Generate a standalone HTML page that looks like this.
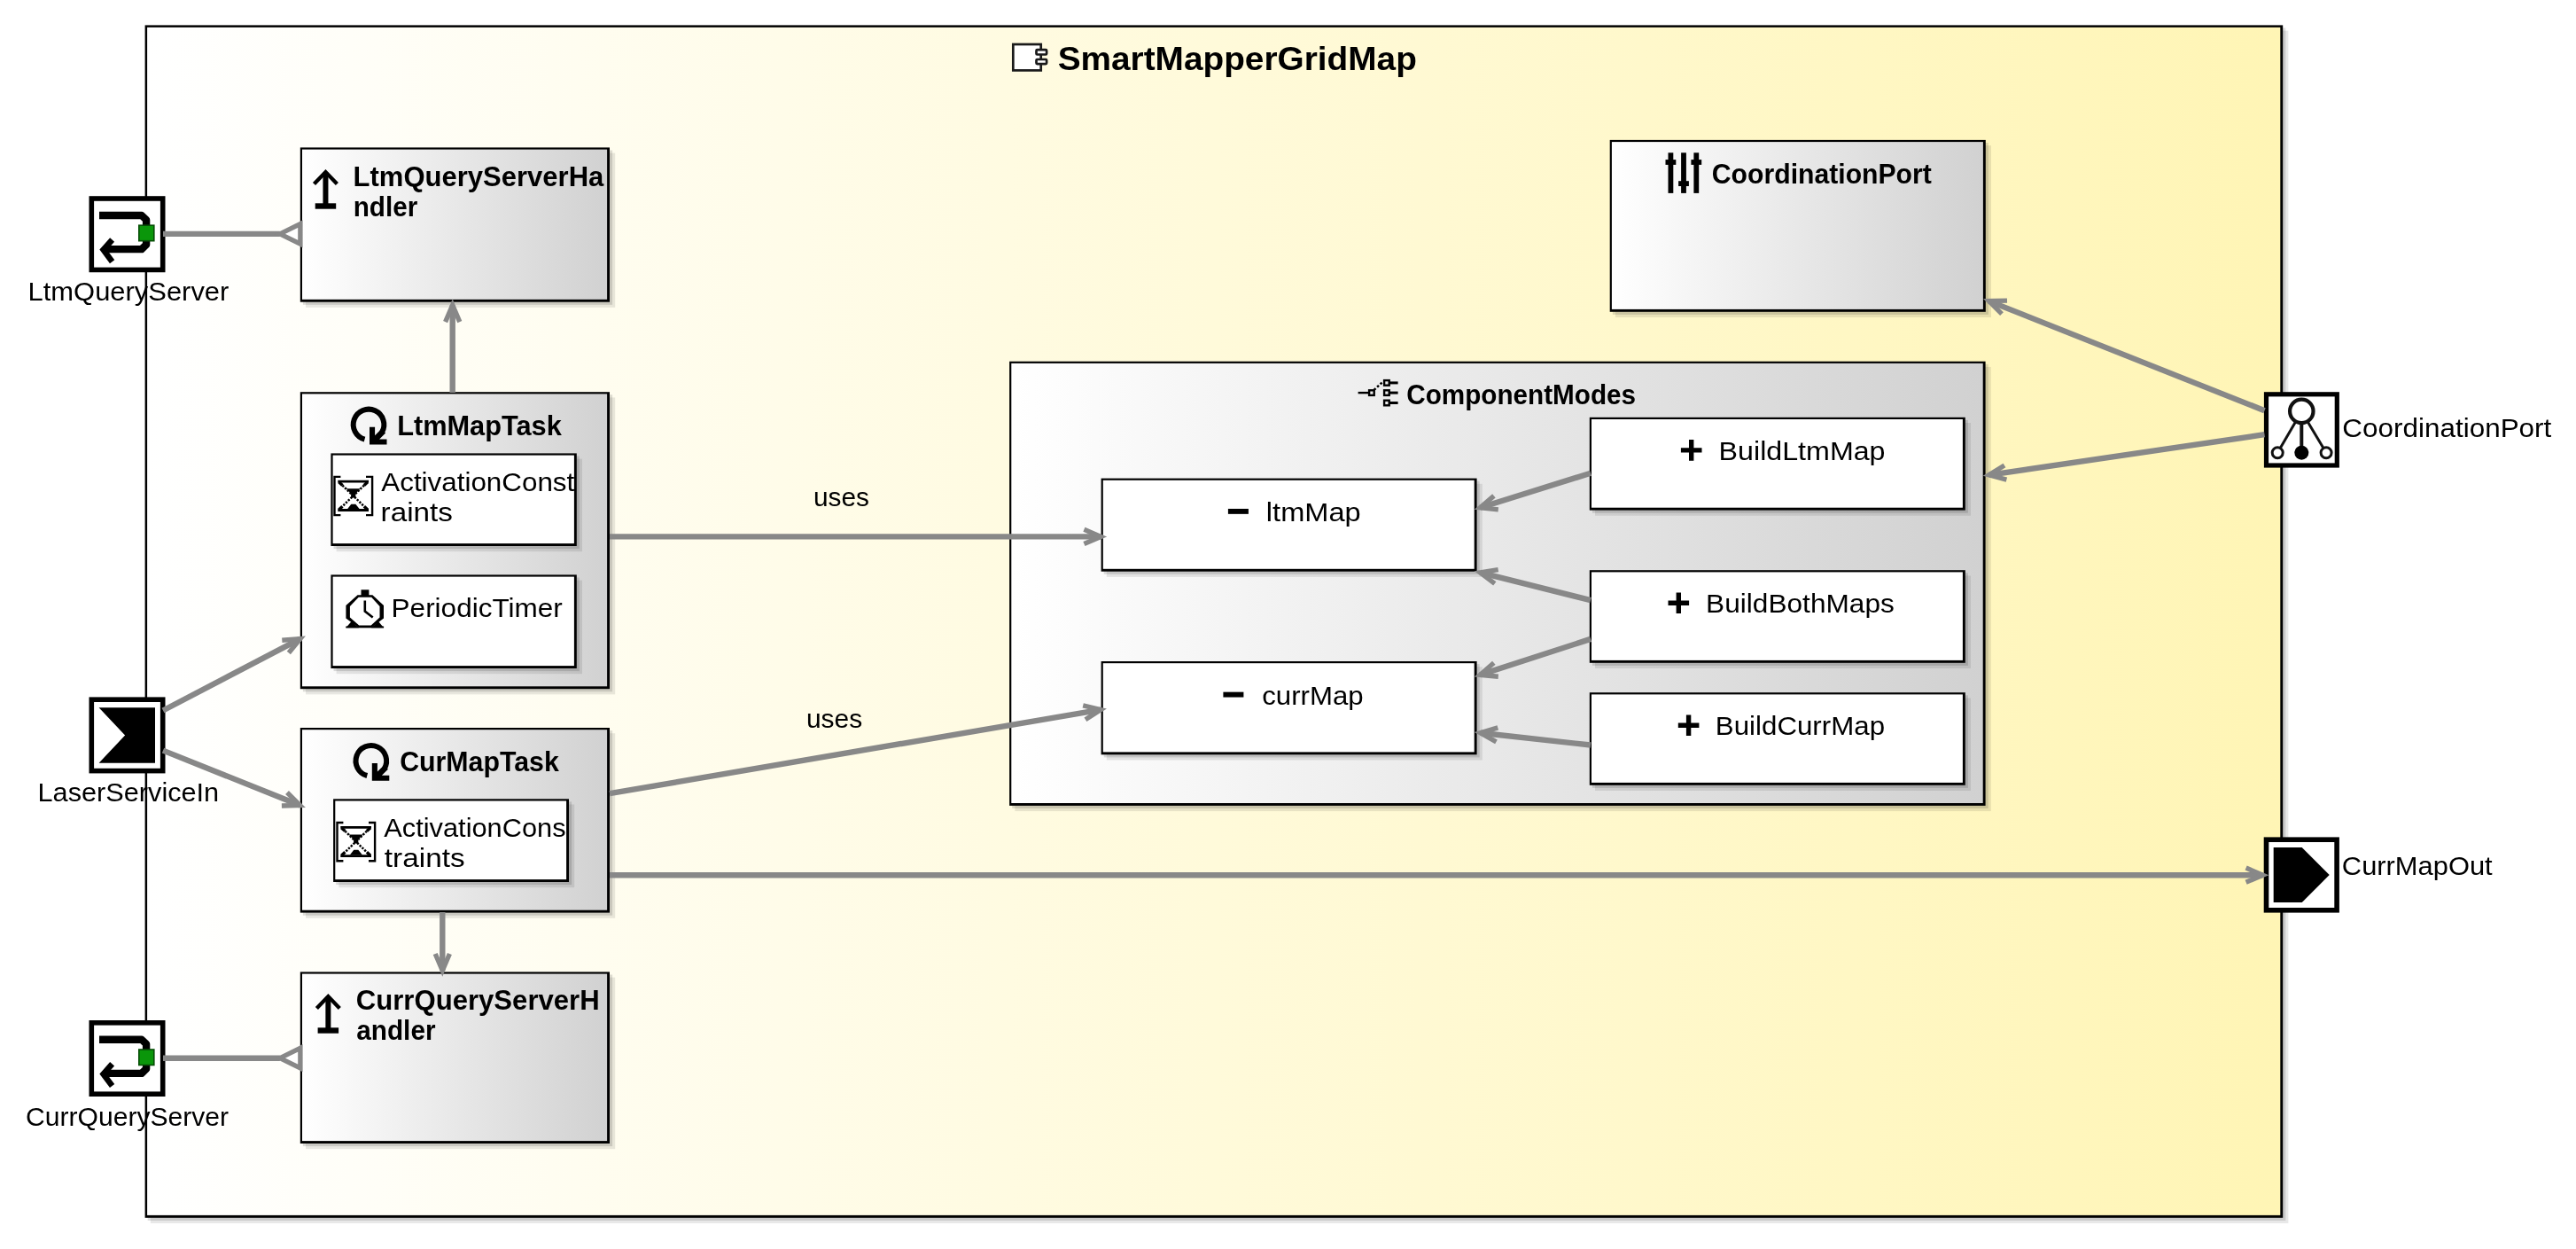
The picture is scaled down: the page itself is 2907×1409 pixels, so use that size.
<!DOCTYPE html>
<html><head><meta charset="utf-8"><title>SmartMapperGridMap</title>
<style>
html,body{margin:0;padding:0;background:#fff;overflow:hidden;}
svg{display:block;will-change:transform;}
text{font-family:"Liberation Sans",sans-serif;fill:#000;}
</style></head><body>
<svg width="2907" height="1409" viewBox="0 0 2907 1409">
<defs>
<linearGradient id="gy" x1="0" y1="0" x2="1" y2="0"><stop offset="0" stop-color="#ffffff"/><stop offset="1" stop-color="#fff5b5"/></linearGradient>
<linearGradient id="gg" x1="0" y1="0" x2="1" y2="0"><stop offset="0" stop-color="#ffffff"/><stop offset="1" stop-color="#d1d1d1"/></linearGradient>
</defs>
<rect width="2907" height="1409" fill="#fff"/>
<rect x="169.8" y="34.6" width="2412.6" height="1345.4" fill="#000" fill-opacity="0.09"/>
<rect x="166.7" y="31.5" width="2412.6" height="1345.4" fill="#000" fill-opacity="0.13"/>
<rect x="163.60" y="28.40" width="2412.60" height="1345.40" fill="#000"/>
<rect x="166.10" y="30.90" width="2407.20" height="1340.00" fill="url(#gy)"/>
<g transform="translate(1141.9,48.6)" stroke="#1a1a1a" stroke-width="2.7" fill="#fff">
<rect x="1.4" y="1.4" width="31.4" height="29.4"/>
<rect x="27.6" y="7.6" width="11.6" height="5.3" rx="1"/>
<rect x="27.6" y="18.4" width="11.6" height="5.1" rx="1"/>
</g>
<text x="1193.67" y="79.0" font-size="37" font-weight="bold" textLength="405.18" lengthAdjust="spacingAndGlyphs">SmartMapperGridMap</text>
<rect x="345.0" y="172.6" width="349.2" height="174.3" fill="#000" fill-opacity="0.09"/>
<rect x="341.9" y="169.5" width="349.2" height="174.3" fill="#000" fill-opacity="0.13"/>
<rect x="338.80" y="166.40" width="349.20" height="174.30" fill="#000"/>
<rect x="341.00" y="168.60" width="344.10" height="169.20" fill="url(#gg)"/>
<rect x="345.0" y="448.4" width="349.2" height="335.0" fill="#000" fill-opacity="0.09"/>
<rect x="341.9" y="445.3" width="349.2" height="335.0" fill="#000" fill-opacity="0.13"/>
<rect x="338.80" y="442.20" width="349.20" height="335.00" fill="#000"/>
<rect x="341.00" y="444.40" width="344.10" height="329.90" fill="url(#gg)"/>
<rect x="345.0" y="827.2" width="349.2" height="208.6" fill="#000" fill-opacity="0.09"/>
<rect x="341.9" y="824.1" width="349.2" height="208.6" fill="#000" fill-opacity="0.13"/>
<rect x="338.80" y="821.00" width="349.20" height="208.60" fill="#000"/>
<rect x="341.00" y="823.20" width="344.10" height="203.50" fill="url(#gg)"/>
<rect x="345.0" y="1102.6" width="349.2" height="193.6" fill="#000" fill-opacity="0.09"/>
<rect x="341.9" y="1099.5" width="349.2" height="193.6" fill="#000" fill-opacity="0.13"/>
<rect x="338.80" y="1096.40" width="349.20" height="193.60" fill="#000"/>
<rect x="341.00" y="1098.60" width="344.10" height="188.50" fill="url(#gg)"/>
<rect x="1822.9" y="164.1" width="424.1" height="193.9" fill="#000" fill-opacity="0.09"/>
<rect x="1819.8" y="161.0" width="424.1" height="193.9" fill="#000" fill-opacity="0.13"/>
<rect x="1816.70" y="157.90" width="424.10" height="193.90" fill="#000"/>
<rect x="1818.90" y="160.10" width="419.00" height="188.80" fill="url(#gg)"/>
<rect x="1145.3" y="413.9" width="1101.5" height="501.2" fill="#000" fill-opacity="0.09"/>
<rect x="1142.2" y="410.8" width="1101.5" height="501.2" fill="#000" fill-opacity="0.13"/>
<rect x="1139.10" y="407.70" width="1101.50" height="501.20" fill="#000"/>
<rect x="1141.30" y="409.90" width="1096.40" height="496.10" fill="url(#gg)"/>
<rect x="379.6" y="517.6" width="277.4" height="104.6" fill="#000" fill-opacity="0.09"/>
<rect x="376.5" y="514.5" width="277.4" height="104.6" fill="#000" fill-opacity="0.13"/>
<rect x="373.40" y="511.40" width="277.40" height="104.60" fill="#000"/>
<rect x="375.60" y="513.60" width="272.30" height="99.50" fill="#fff"/>
<rect x="379.6" y="654.6" width="277.4" height="105.6" fill="#000" fill-opacity="0.09"/>
<rect x="376.5" y="651.5" width="277.4" height="105.6" fill="#000" fill-opacity="0.13"/>
<rect x="373.40" y="648.40" width="277.40" height="105.60" fill="#000"/>
<rect x="375.60" y="650.60" width="272.30" height="100.50" fill="#fff"/>
<rect x="382.3" y="907.5" width="265.9" height="93.7" fill="#000" fill-opacity="0.09"/>
<rect x="379.2" y="904.4" width="265.9" height="93.7" fill="#000" fill-opacity="0.13"/>
<rect x="376.10" y="901.30" width="265.90" height="93.70" fill="#000"/>
<rect x="378.30" y="903.50" width="260.80" height="88.60" fill="#fff"/>
<rect x="1248.8" y="545.8" width="424.0" height="105.1" fill="#000" fill-opacity="0.09"/>
<rect x="1245.7" y="542.7" width="424.0" height="105.1" fill="#000" fill-opacity="0.13"/>
<rect x="1242.60" y="539.60" width="424.00" height="105.10" fill="#000"/>
<rect x="1244.80" y="541.80" width="418.90" height="100.00" fill="#fff"/>
<rect x="1248.8" y="752.2" width="424.0" height="105.3" fill="#000" fill-opacity="0.09"/>
<rect x="1245.7" y="749.1" width="424.0" height="105.3" fill="#000" fill-opacity="0.13"/>
<rect x="1242.60" y="746.00" width="424.00" height="105.30" fill="#000"/>
<rect x="1244.80" y="748.20" width="418.90" height="100.20" fill="#fff"/>
<rect x="1800.0" y="477.0" width="424.0" height="104.8" fill="#000" fill-opacity="0.09"/>
<rect x="1796.9" y="473.9" width="424.0" height="104.8" fill="#000" fill-opacity="0.13"/>
<rect x="1793.80" y="470.80" width="424.00" height="104.80" fill="#000"/>
<rect x="1796.00" y="473.00" width="418.90" height="99.70" fill="#fff"/>
<rect x="1800.0" y="649.4" width="424.0" height="104.6" fill="#000" fill-opacity="0.09"/>
<rect x="1796.9" y="646.3" width="424.0" height="104.6" fill="#000" fill-opacity="0.13"/>
<rect x="1793.80" y="643.20" width="424.00" height="104.60" fill="#000"/>
<rect x="1796.00" y="645.40" width="418.90" height="99.50" fill="#fff"/>
<rect x="1800.0" y="787.4" width="424.0" height="104.6" fill="#000" fill-opacity="0.09"/>
<rect x="1796.9" y="784.3" width="424.0" height="104.6" fill="#000" fill-opacity="0.13"/>
<rect x="1793.80" y="781.20" width="424.00" height="104.60" fill="#000"/>
<rect x="1796.00" y="783.40" width="418.90" height="99.50" fill="#fff"/>
<g transform="translate(352.5,192.0)" fill="none" stroke="#000">
<path d="M14.95 2.5 V40" stroke-width="6"/>
<path d="M2.0 15.6 L14.95 2.0 L27.9 15.6" stroke-width="4.3"/>
<path d="M3.2 40.5 H26.7" stroke-width="6.4"/>
</g>
<text x="398.58" y="209.8" font-size="31.5" font-weight="bold" textLength="282.71" lengthAdjust="spacingAndGlyphs">LtmQueryServerHa</text>
<text x="398.70" y="243.8" font-size="31.5" font-weight="bold" textLength="72.58" lengthAdjust="spacingAndGlyphs">ndler</text>
<g transform="translate(395.7,458.7)">
<path d="M15.8 37 A17.3 17.3 0 1 1 35.3 28.95" fill="none" stroke="#000" stroke-width="6"/>
<polygon points="21.3,23 27.4,23 27.4,32.6 34.6,25.4 39.4,29.8 32.4,36.7 40.8,36.7 40.8,42.8 21.3,42.8" fill="#000"/>
</g>
<text x="448.13" y="490.5" font-size="31.5" font-weight="bold" textLength="185.69" lengthAdjust="spacingAndGlyphs">LtmMapTask</text>
<g transform="translate(376.4,537.3)" fill="none" stroke="#000">
<path d="M8 0.6 H1.1 V43.8 H8" stroke-width="2.4"/>
<path d="M36.6 0.6 H43.7 V43.8 H36.6" stroke-width="2.4"/>
<path d="M4.9 5.9 H39.6 M4.9 38.2 H39.6" stroke-width="2.8"/>
<path d="M6 6.5 L10 10.2 M38.5 6.5 L34.5 10.2 M6 37.6 L10 33.9 M38.5 37.6 L34.5 33.9" stroke-width="3.4"/>
<path d="M10 10.2 L34.5 33.9 M34.5 10.2 L10 33.9" stroke-width="2.5" stroke-dasharray="2.3 1.5"/>
<polygon points="14.1,14 30.4,14 24.9,19.5 24.9,24.2 19.7,24.2 19.7,19.5" fill="#000" stroke="none"/>
<polygon points="15.4,37.2 29.6,37.2 24.9,31.4 19.9,31.4" fill="#000" stroke="none"/>
</g>
<text x="430.27" y="553.6" font-size="30" textLength="218.00" lengthAdjust="spacingAndGlyphs">ActivationConst</text>
<text x="429.58" y="587.6" font-size="30" textLength="81.29" lengthAdjust="spacingAndGlyphs">raints</text>
<g transform="translate(389.4,665.3)">
<rect x="18.1" y="0" width="8.9" height="7" fill="#000"/>
<polygon points="0.9,42.9 7.2,35.8 15.5,42.9" fill="#000"/><polygon points="29.6,42.9 37.6,35.8 43.7,42.9" fill="#000"/>
<rect x="0.9" y="41.2" width="42.8" height="1.8" fill="#000"/>
<polygon points="14.1,6 31,6 43.6,17.7 43.6,32.3 29.8,42.7 15.3,42.7 1,32.3 1,17.7" fill="#000"/>
<polygon points="15.3,8.4 29.8,8.4 39.1,18.8 39.1,31.2 29.3,40.1 15.8,40.1 5.5,31.2 5.5,18.8" fill="#fff"/>
<path d="M22.4 12.1 V24.3 L31.3 31.2" fill="none" stroke="#000" stroke-width="2.6"/>
</g>
<text x="441.62" y="696.4" font-size="30" textLength="193.10" lengthAdjust="spacingAndGlyphs">PeriodicTimer</text>
<g transform="translate(398.5,838.0)">
<path d="M15.8 37 A17.3 17.3 0 1 1 35.3 28.95" fill="none" stroke="#000" stroke-width="6"/>
<polygon points="21.3,23 27.4,23 27.4,32.6 34.6,25.4 39.4,29.8 32.4,36.7 40.8,36.7 40.8,42.8 21.3,42.8" fill="#000"/>
</g>
<text x="451.18" y="869.6" font-size="31.5" font-weight="bold" textLength="179.66" lengthAdjust="spacingAndGlyphs">CurMapTask</text>
<g transform="translate(379.4,927.4)" fill="none" stroke="#000">
<path d="M8 0.6 H1.1 V43.8 H8" stroke-width="2.4"/>
<path d="M36.6 0.6 H43.7 V43.8 H36.6" stroke-width="2.4"/>
<path d="M4.9 5.9 H39.6 M4.9 38.2 H39.6" stroke-width="2.8"/>
<path d="M6 6.5 L10 10.2 M38.5 6.5 L34.5 10.2 M6 37.6 L10 33.9 M38.5 37.6 L34.5 33.9" stroke-width="3.4"/>
<path d="M10 10.2 L34.5 33.9 M34.5 10.2 L10 33.9" stroke-width="2.5" stroke-dasharray="2.3 1.5"/>
<polygon points="14.1,14 30.4,14 24.9,19.5 24.9,24.2 19.7,24.2 19.7,19.5" fill="#000" stroke="none"/>
<polygon points="15.4,37.2 29.6,37.2 24.9,31.4 19.9,31.4" fill="#000" stroke="none"/>
</g>
<text x="433.31" y="944.0" font-size="30" textLength="205.23" lengthAdjust="spacingAndGlyphs">ActivationCons</text>
<text x="433.85" y="978.2" font-size="30" textLength="90.74" lengthAdjust="spacingAndGlyphs">traints</text>
<g transform="translate(355.4,1122.0)" fill="none" stroke="#000">
<path d="M14.95 2.5 V40" stroke-width="6"/>
<path d="M2.0 15.6 L14.95 2.0 L27.9 15.6" stroke-width="4.3"/>
<path d="M3.2 40.5 H26.7" stroke-width="6.4"/>
</g>
<text x="401.82" y="1138.5" font-size="31.5" font-weight="bold" textLength="274.87" lengthAdjust="spacingAndGlyphs">CurrQueryServerH</text>
<text x="402.26" y="1173.1" font-size="31.5" font-weight="bold" textLength="89.25" lengthAdjust="spacingAndGlyphs">andler</text>
<g transform="translate(1879.5,172.3)" fill="#000">
<rect x="3.0" y="0" width="5.8" height="45.6"/>
<rect x="0.0" y="7.8" width="11.8" height="5.8"/>
<rect x="17.6" y="0" width="5.8" height="45.6"/>
<rect x="14.6" y="31.9" width="11.8" height="5.8"/>
<rect x="31.9" y="0" width="5.8" height="45.6"/>
<rect x="28.9" y="7.8" width="11.8" height="5.8"/>
</g>
<text x="1931.83" y="206.8" font-size="31.5" font-weight="bold" textLength="248.00" lengthAdjust="spacingAndGlyphs">CoordinationPort</text>
<g transform="translate(1532.6,427.7)" fill="none" stroke="#000" stroke-width="2.4">
<path d="M0 15.4 H12"/>
<rect x="12.5" y="12.6" width="5.6" height="5.6"/>
<path d="M18 12.2 L28.5 2.4" stroke-width="2.6" stroke-dasharray="2.6 2.2"/>
<rect x="29.5" y="1.4" width="5.6" height="5.6"/>
<path d="M35.2 4.2 H45" stroke-width="3"/>
<rect x="29.5" y="12.6" width="5.6" height="5.6"/>
<path d="M35.2 15.4 H45" stroke-width="3"/>
<rect x="29.5" y="24.0" width="5.6" height="5.6"/>
<path d="M35.2 26.8 H45" stroke-width="3"/>
</g>
<text x="1587.24" y="456.0" font-size="31.5" font-weight="bold" textLength="258.80" lengthAdjust="spacingAndGlyphs">ComponentModes</text>
<path d="M1385.9 576.9 H1408.9" stroke="#000" stroke-width="5.9" fill="none"/>
<text x="1428.85" y="587.8" font-size="30" textLength="106.84" lengthAdjust="spacingAndGlyphs">ltmMap</text>
<path d="M1380.4 783.6 H1403.4" stroke="#000" stroke-width="5.9" fill="none"/>
<text x="1424.24" y="794.8" font-size="30" textLength="114.36" lengthAdjust="spacingAndGlyphs">currMap</text>
<path d="M1896.9 507.9 H1920.5 M1908.7 496.1 V519.7" stroke="#000" stroke-width="5.4" fill="none"/>
<text x="1939.61" y="518.9" font-size="30" textLength="187.90" lengthAdjust="spacingAndGlyphs">BuildLtmMap</text>
<path d="M1882.5 680.3 H1906.1 M1894.3 668.5 V692.1" stroke="#000" stroke-width="5.4" fill="none"/>
<text x="1925.11" y="691.4" font-size="30" textLength="212.69" lengthAdjust="spacingAndGlyphs">BuildBothMaps</text>
<path d="M1893.8 818.3 H1917.4 M1905.6 806.5 V830.1" stroke="#000" stroke-width="5.4" fill="none"/>
<text x="1935.87" y="829.0" font-size="30" textLength="191.18" lengthAdjust="spacingAndGlyphs">BuildCurrMap</text>
<text x="917.89" y="570.8" font-size="30" textLength="63.04" lengthAdjust="spacingAndGlyphs">uses</text>
<text x="909.90" y="820.8" font-size="30" textLength="63.25" lengthAdjust="spacingAndGlyphs">uses</text>
<rect x="103.30" y="224.00" width="80.40" height="80.40" fill="#fff" stroke="#000" stroke-width="5.6"/>
<g transform="translate(100.5,221.2)">
<path d="M11.5 21.8 H59.3 L64.6 26.8 V54.8 L59.3 59.9 H17" fill="none" stroke="#000" stroke-width="8.4" stroke-linejoin="round"/>
<path d="M26.1 49.3 L16.1 60.6 L26.1 74" fill="none" stroke="#000" stroke-width="6.6" stroke-linejoin="miter"/>
<rect x="56.3" y="33" width="17" height="17.5" fill="#0a960a" stroke="#064d06" stroke-width="1.6"/>
</g>
<text x="31.60" y="338.5" font-size="30" textLength="226.76" lengthAdjust="spacingAndGlyphs">LtmQueryServer</text>
<rect x="103.30" y="789.20" width="80.40" height="80.40" fill="#fff" stroke="#000" stroke-width="5.6"/>
<polygon points="111.6,798.1999999999999 175.0,798.1999999999999 175.0,860.6999999999999 111.6,860.6999999999999 141.1,829.6" fill="#000"/>
<text x="42.55" y="903.5" font-size="30" textLength="204.65" lengthAdjust="spacingAndGlyphs">LaserServiceIn</text>
<rect x="103.30" y="1153.80" width="80.40" height="80.40" fill="#fff" stroke="#000" stroke-width="5.6"/>
<g transform="translate(100.5,1151.0)">
<path d="M11.5 21.8 H59.3 L64.6 26.8 V54.8 L59.3 59.9 H17" fill="none" stroke="#000" stroke-width="8.4" stroke-linejoin="round"/>
<path d="M26.1 49.3 L16.1 60.6 L26.1 74" fill="none" stroke="#000" stroke-width="6.6" stroke-linejoin="miter"/>
<rect x="56.3" y="33" width="17" height="17.5" fill="#0a960a" stroke="#064d06" stroke-width="1.6"/>
</g>
<text x="29.07" y="1269.5" font-size="30" textLength="228.95" lengthAdjust="spacingAndGlyphs">CurrQueryServer</text>
<rect x="2557.50" y="444.80" width="79.80" height="80.20" fill="#fff" stroke="#000" stroke-width="5.2"/>
<g transform="translate(2554.9,442.2)" stroke="#111" fill="#fff">
<line x1="42.4" y1="22" x2="15.3" y2="68.5" stroke-width="3"/>
<line x1="42.4" y1="22" x2="42.4" y2="68.5" stroke-width="4"/>
<line x1="42.4" y1="22" x2="70.2" y2="68.5" stroke-width="3"/>
<circle cx="42.4" cy="21.7" r="13.2" stroke-width="4.2"/>
<circle cx="15.3" cy="68.5" r="6" stroke-width="3"/>
<circle cx="42.4" cy="68.5" r="8" fill="#000" stroke="none"/>
<circle cx="70.2" cy="68.5" r="6" stroke-width="3"/>
</g>
<text x="2643.37" y="492.7" font-size="30" textLength="235.96" lengthAdjust="spacingAndGlyphs">CoordinationPort</text>
<rect x="2557.50" y="947.20" width="79.60" height="79.60" fill="#fff" stroke="#000" stroke-width="5.6"/>
<polygon points="2565.7,955.9 2597.7,955.9 2628.7,987.0 2597.7,1018.1 2565.7,1018.1" fill="#000"/>
<text x="2642.86" y="986.5" font-size="30" textLength="169.80" lengthAdjust="spacingAndGlyphs">CurrMapOut</text>
<line x1="184.0" y1="263.9" x2="315.9" y2="263.9" stroke="#888888" stroke-width="6.4"/>
<polygon points="315.9,263.9 338.9,275.2 338.9,252.6" fill="#fff" stroke="#888888" stroke-width="5.4" stroke-miterlimit="10"/>
<line x1="184.0" y1="1193.7" x2="315.9" y2="1193.7" stroke="#888888" stroke-width="6.4"/>
<polygon points="315.9,1193.7 338.9,1205.0 338.9,1182.4" fill="#fff" stroke="#888888" stroke-width="5.4" stroke-miterlimit="10"/>
<line x1="510.7" y1="443.0" x2="510.7" y2="344.2" stroke="#888888" stroke-width="6.4"/>
<polyline points="518.8,363.1 510.7,344.2 502.6,363.1" fill="none" stroke="#888888" stroke-width="5.4" stroke-miterlimit="10"/>
<line x1="499.3" y1="1029.0" x2="499.3" y2="1094.9" stroke="#888888" stroke-width="6.4"/>
<polyline points="491.2,1076.0 499.3,1094.9 507.4,1076.0" fill="none" stroke="#888888" stroke-width="5.4" stroke-miterlimit="10"/>
<line x1="184.0" y1="801.5" x2="338.8" y2="720.6" stroke="#888888" stroke-width="6.4"/>
<polyline points="325.8,736.5 338.8,720.6 318.3,722.2" fill="none" stroke="#888888" stroke-width="5.4" stroke-miterlimit="10"/>
<line x1="184.0" y1="846.6" x2="338.5" y2="908.5" stroke="#888888" stroke-width="6.4"/>
<polyline points="317.9,909.0 338.5,908.5 324.0,894.0" fill="none" stroke="#888888" stroke-width="5.4" stroke-miterlimit="10"/>
<line x1="688.0" y1="605.4" x2="1242.3" y2="605.4" stroke="#888888" stroke-width="6.4"/>
<polyline points="1223.4,613.5 1242.3,605.4 1223.4,597.3" fill="none" stroke="#888888" stroke-width="5.4" stroke-miterlimit="10"/>
<line x1="688.0" y1="895.1" x2="1242.2" y2="800.6" stroke="#888888" stroke-width="6.4"/>
<polyline points="1224.9,811.8 1242.2,800.6 1222.2,795.8" fill="none" stroke="#888888" stroke-width="5.4" stroke-miterlimit="10"/>
<line x1="688.0" y1="987.2" x2="2553.5" y2="987.2" stroke="#888888" stroke-width="6.4"/>
<polyline points="2534.6,995.3 2553.5,987.2 2534.6,979.1" fill="none" stroke="#888888" stroke-width="5.4" stroke-miterlimit="10"/>
<line x1="2555.5" y1="463.2" x2="2244.4" y2="339.6" stroke="#888888" stroke-width="6.4"/>
<polyline points="2265.0,339.1 2244.4,339.6 2259.0,354.1" fill="none" stroke="#888888" stroke-width="5.4" stroke-miterlimit="10"/>
<line x1="2555.5" y1="490.2" x2="2244.5" y2="535.8" stroke="#888888" stroke-width="6.4"/>
<polyline points="2262.0,525.0 2244.5,535.8 2264.4,541.1" fill="none" stroke="#888888" stroke-width="5.4" stroke-miterlimit="10"/>
<line x1="1795.0" y1="533.7" x2="1670.3" y2="572.8" stroke="#888888" stroke-width="6.4"/>
<polyline points="1685.9,559.4 1670.3,572.8 1690.8,574.9" fill="none" stroke="#888888" stroke-width="5.4" stroke-miterlimit="10"/>
<line x1="1795.0" y1="677.1" x2="1670.4" y2="645.9" stroke="#888888" stroke-width="6.4"/>
<polyline points="1690.7,642.6 1670.4,645.9 1686.8,658.3" fill="none" stroke="#888888" stroke-width="5.4" stroke-miterlimit="10"/>
<line x1="1795.0" y1="720.9" x2="1670.3" y2="761.3" stroke="#888888" stroke-width="6.4"/>
<polyline points="1685.8,747.8 1670.3,761.3 1690.8,763.2" fill="none" stroke="#888888" stroke-width="5.4" stroke-miterlimit="10"/>
<line x1="1795.0" y1="840.5" x2="1670.6" y2="826.8" stroke="#888888" stroke-width="6.4"/>
<polyline points="1690.3,820.8 1670.6,826.8 1688.5,836.9" fill="none" stroke="#888888" stroke-width="5.4" stroke-miterlimit="10"/>
</svg></body></html>
